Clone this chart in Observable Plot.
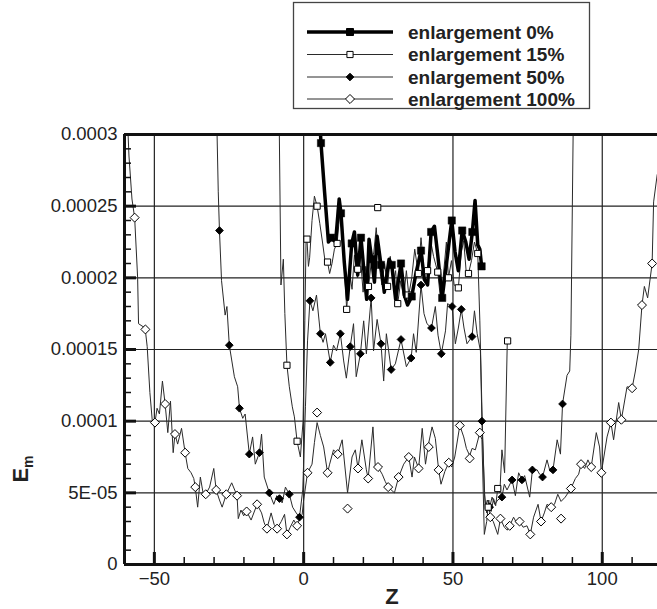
<!DOCTYPE html>
<html><head><meta charset="utf-8">
<script src="https://cdn.jsdelivr.net/npm/d3@7"></script>
<script src="https://cdn.jsdelivr.net/npm/@observablehq/plot@0.6"></script>
<style>
body{margin:0;background:#fff;font-family:"Liberation Sans",Arial,sans-serif;}
#legend{width:657px;height:120px;}
#chart{width:657px;height:489px;}
</style></head><body>
<div id="legend"></div>
<div id="chart"></div>
<script>
// values in units of 1e-5
const seriesNames = ["enlargement 0%", "enlargement 15%", "enlargement 50%", "enlargement 100%"];
const xTickValues = [-50, 0, 50, 100];
const xMinorTicks = [-40,-30,-20,-10,10,20,30,40,60,70,80,90,110];
const yTickValues = [0, 0.00005, 0.0001, 0.00015, 0.0002, 0.00025, 0.0003];
const yTickLabels = ["0", "5E-05", "0.0001", "0.00015", "0.0002", "0.00025", "0.0003"];
const yMinorTicks = [0.00001,0.00002,0.00003,0.00004,0.00006,0.00007,0.00008,0.00009,0.00011,0.00012,0.00013,0.00014,0.00016,0.00017,0.00018,0.00019,0.00021,0.00022,0.00023,0.00024,0.00026,0.00027,0.00028,0.00029];

const line0 = [[5.4,31],[5.8,29.4],[7.0,26.0],[8.3,22.5],[9.2,22.8],[10.7,22.5],[11.9,25.5],[12.5,24.5],[13.6,21.1],[14.7,18.5],[16.1,22.4],[17.0,23.2],[18.1,20.2],[19.2,22.8],[20.3,20.2],[21.1,18.5],[21.9,22.7],[22.8,21.3],[23.7,19.7],[24.6,22.9],[25.9,20.9],[27.0,19.0],[28.6,21.3],[29.5,20.9],[30.8,18.5],[32.6,21.0],[33.7,18.8],[34.8,18.1],[36.2,18.7],[37.5,20.2],[39.3,21.9],[40.4,19.9],[41.5,19.5],[42.7,23.2],[43.8,23.6],[44.9,21.6],[46.4,18.6],[47.9,21.1],[49.6,24.0],[50.7,21.8],[51.8,20.5],[53.1,23.3],[54.3,22.5],[55.4,21.3],[56.5,23.2],[57.4,25.4],[58.3,22.3],[59.0,22.0],[59.6,20.8]];
const marks0 = [[5.8,29.4],[9.2,22.8],[12.5,24.5],[16.1,22.4],[19.2,22.8],[22.8,21.3],[25.9,20.9],[29.5,20.9],[32.6,21.0],[36.2,18.7],[39.3,21.9],[42.7,23.2],[46.4,18.6],[49.6,24.0],[53.1,23.3],[56.5,23.2],[59.6,20.8]];

const line15 = [[-8.2,31],[-7.6,19.5],[-6.8,21.3],[-6.3,17.5],[-5.6,13.9],[-4.8,12.4],[-3.8,11.0],[-3.1,10.3],[-2.2,8.6],[-1.1,7.5],[-0.2,10],[0.4,17],[0.8,22.6],[1.1,22.7],[1.6,20.8],[2.0,21.4],[2.8,24.0],[3.6,25.7],[4.5,25.0],[5.4,23.8],[6.3,22.5],[7.2,21.1],[8.0,21.1],[8.7,20.3],[9.5,21.0],[10.3,22.0],[11.2,22.4],[12.1,24.5],[13.2,22.5],[14.4,17.8],[15.3,20.5],[16.2,19.2],[17.0,21.6],[18.0,20.0],[19.0,21.5],[19.9,19.0],[20.8,20.8],[21.7,19.4],[22.6,21.0],[23.5,21.8],[24.3,23.5],[25.2,21.0],[26.2,19.5],[27.1,21.0],[28.1,19.4],[29.0,21.5],[30.0,19.6],[30.8,20.5],[31.5,18.2],[32.5,19.8],[33.5,18.6],[34.4,20.5],[35.2,18.8],[36.2,20.0],[37.2,22.0],[38.4,20.3],[39.3,22.8],[40.3,20.5],[41.5,20.5],[42.5,22.6],[43.5,21.5],[44.9,20.4],[45.8,18.6],[46.8,20.2],[47.8,22.5],[48.5,20.0],[49.5,21.2],[50.4,19.5],[51.8,19.3],[52.8,21.8],[53.6,22.6],[54.4,20.5],[55.2,20.3],[56.2,21.2],[57.2,22.5],[58.3,21.7],[59.0,17],[59.8,10],[60.5,5.0],[61.3,3.6],[62.0,4.3],[62.8,3.7],[63.6,4.6],[64.3,4.1],[65.0,5.3],[65.7,5.0],[66.4,8.0],[67.3,6.4],[68.2,15.6]];
const marks15 = [[-5.6,13.9],[-2.2,8.6],[1.1,22.7],[4.5,25.0],[8.0,21.1],[11.2,22.4],[14.4,17.8],[18.1,20.6],[21.7,19.4],[24.8,24.9],[28.1,19.4],[31.5,18.2],[35.0,18.8],[38.4,20.3],[41.5,20.5],[44.9,20.4],[48.5,20.0],[51.8,19.3],[55.2,20.3],[58.3,21.7],[61.8,4.0],[65.0,5.3],[68.3,15.6]];

const line50 = [[-29.1,31],[-28.6,26],[-28.2,23.3],[-27.5,19.8],[-26.3,17.4],[-25.7,18.0],[-24.9,15.3],[-23.2,13.1],[-22.1,12.4],[-21.5,10.9],[-20.4,10.2],[-19.6,10.5],[-18.2,7.7],[-17.1,8.9],[-16.2,7.0],[-14.8,7.8],[-14.1,9.1],[-13.2,6.1],[-11.5,5.0],[-10.0,4.2],[-9.0,4.8],[-8.1,4.6],[-7.2,4.3],[-6.1,5.4],[-4.8,4.9],[-3.7,4.0],[-2.5,3.6],[-1.4,3.3],[-0.3,5.2],[0.6,11],[1.3,15.6],[2.1,18.4],[3.1,17.7],[4.3,18.8],[5.6,16.1],[6.5,15.5],[7.3,16.1],[8.9,14.1],[10.0,15.3],[11.0,14.9],[12.3,16.1],[13.4,14.2],[14.3,13.0],[15.6,15.2],[16.7,16.8],[17.6,13.1],[19.0,14.7],[20.1,17.0],[21.0,14.7],[22.6,18.6],[23.4,14.9],[24.6,17.1],[25.9,15.4],[26.8,12.8],[27.7,16.1],[29.3,13.6],[30.7,14.0],[32.6,15.7],[34.4,13.8],[36.0,14.4],[36.8,16.1],[37.7,14.8],[39.3,19.5],[40.3,17.5],[41.3,16.8],[42.8,16.5],[44.1,18.0],[45.0,16.0],[46.1,14.7],[47.5,16.3],[48.2,18.2],[49.7,18.0],[50.8,15.4],[51.8,16.5],[52.8,17.8],[53.7,16.5],[54.7,15.4],[56.4,15.9],[57.2,17.7],[58.1,16.1],[59.2,14.9],[59.7,10.0],[60.8,3.9],[61.5,4.5],[62.3,4.0],[63.1,4.7],[64.0,4.2],[65.0,4.5],[66.4,4.7],[67.2,5.6],[68.1,5.2],[69.8,5.9],[70.9,4.8],[72.0,6.4],[73.1,5.9],[74.0,6.2],[75.7,4.7],[76.6,6.6],[78.2,6.6],[79.0,6.3],[80.0,6.1],[81.5,7.3],[82.5,6.5],[83.5,6.6],[84.9,8.7],[86.0,7.7],[86.7,11.2],[88.2,13.2],[89.1,13.5],[89.5,16],[90.3,31]];
const marks50 = [[-28.2,23.3],[-24.9,15.3],[-21.5,10.9],[-18.2,7.7],[-14.8,7.8],[-11.5,5.0],[-8.1,4.6],[-4.8,4.9],[-1.4,3.3],[2.1,18.4],[5.6,16.1],[8.9,14.1],[12.3,16.1],[15.6,15.2],[19.0,14.7],[22.6,18.6],[25.9,15.4],[29.3,13.6],[32.6,15.7],[36.0,14.4],[39.3,19.5],[42.8,16.5],[46.1,14.7],[49.7,18.0],[52.8,17.8],[56.4,15.9],[59.7,10.0],[62.3,4.0],[66.4,4.7],[69.8,5.9],[73.1,5.9],[76.6,6.6],[80.0,6.1],[83.5,6.6],[86.7,11.2]];

const line100 = [[-59.2,32],[-58.5,28.5],[-57.5,25.5],[-56.6,24.2],[-55.6,20.0],[-55.3,16.8],[-53.1,16.5],[-52.4,15.2],[-51.5,12.0],[-50.6,9.8],[-49.8,9.9],[-49.1,10.9],[-48.3,10.5],[-47.3,12.8],[-46.4,11.2],[-45.5,9.2],[-44.6,11.4],[-43.7,7.8],[-43.1,9.1],[-42.2,8.4],[-40.9,9.5],[-39.7,7.8],[-38.8,6.7],[-37.7,6.4],[-36.8,6.0],[-36.3,5.4],[-35.5,4.0],[-34.6,6.1],[-33.7,5.0],[-32.8,4.9],[-31.5,5.4],[-30.1,6.7],[-29.3,5.2],[-28.2,4.5],[-27.3,4.0],[-25.9,4.9],[-24.8,5.4],[-24.1,5.7],[-22.3,4.8],[-21.9,3.2],[-21.0,3.8],[-20.1,3.4],[-19.1,3.7],[-17.6,3.1],[-15.6,4.2],[-14.1,3.6],[-13.2,2.9],[-12.3,2.5],[-10.9,3.6],[-9.9,2.8],[-8.9,2.5],[-7.5,3.0],[-6.4,3.5],[-5.6,2.1],[-4.5,2.6],[-3.3,3.1],[-2.2,2.7],[-1.1,3.3],[-0.5,3.5],[0,4.5],[1.3,6.4],[2.8,7.0],[3.6,8.5],[4.5,9.9],[5.6,9.0],[6.7,8.2],[8.0,6.4],[8.7,7.0],[10.0,8.0],[11.4,7.7],[12.9,8.7],[14.7,5.0],[16.2,7.5],[17.3,8.0],[18.2,6.7],[19.5,8.7],[21.0,6.6],[21.6,6.0],[23.2,9.6],[24.0,6.8],[24.9,6.8],[26.3,6.3],[27.3,5.8],[28.3,5.4],[30.4,5.0],[31.8,6.1],[33.5,7.0],[35.2,7.5],[36.3,6.1],[37.1,7.5],[38.5,6.7],[39.7,9.5],[40.8,7.0],[41.9,8.5],[43.0,9.6],[44.1,8.8],[45.2,6.6],[46.0,5.6],[47.3,6.5],[48.6,7.1],[49.6,6.8],[50.6,7.5],[52.3,9.7],[53.6,8.9],[54.5,8.1],[55.6,7.6],[56.4,8.1],[57.5,8.0],[59.0,9.2],[59.7,8.7],[60.5,2.1],[61.3,3.0],[62.0,4.5],[62.5,3.3],[63.5,3.0],[65.0,2.1],[65.9,3.2],[67.2,2.6],[68.2,2.4],[69.0,2.7],[70.3,3.3],[71.3,2.9],[72.3,3.0],[73.5,2.6],[74.8,2.7],[75.9,2.1],[77.0,3.3],[78.5,4.2],[79.5,3.0],[80.6,3.6],[81.5,4.2],[82.9,4.0],[84.0,4.2],[85.1,4.9],[86.2,4.4],[87.6,4.7],[89.5,5.3],[91.0,6.0],[92.1,6.3],[92.9,7.0],[94.1,6.7],[95.2,7.3],[96.3,6.8],[98.0,9.2],[99.1,8.2],[99.7,6.4],[101.6,8.9],[102.9,9.9],[103.8,8.7],[105.5,11.3],[106.4,10.1],[108.3,12.4],[110.0,12.3],[111.1,13.5],[112.2,15.0],[113.3,18.1],[114.1,19.4],[115.2,18.6],[116.7,21.0],[117.2,25.3],[118.4,27.2]];
const marks100 = [[-56.6,24.2],[-53.0,16.4],[-49.8,9.9],[-46.4,11.2],[-43.1,9.1],[-39.7,7.8],[-36.3,5.4],[-32.8,4.9],[-29.3,5.2],[-25.9,4.9],[-22.3,4.8],[-19.1,3.7],[-15.6,4.2],[-12.3,2.5],[-8.9,2.5],[-5.6,2.1],[-2.2,2.7],[1.3,6.4],[4.5,10.6],[8.0,6.4],[11.4,7.7],[14.7,3.9],[18.2,6.7],[21.6,6.0],[24.9,6.8],[28.3,5.4],[31.8,6.1],[35.2,7.5],[38.5,6.7],[41.9,8.2],[45.2,6.6],[48.6,7.1],[52.3,9.7],[55.6,7.4],[59.0,9.2],[62.5,3.3],[65.9,3.2],[69.0,2.7],[72.3,3.0],[75.9,2.1],[79.5,3.0],[82.9,4.0],[86.2,3.2],[89.5,5.3],[92.9,7.0],[96.3,6.8],[99.7,6.4],[102.9,9.9],[106.4,10.1],[110.0,12.3],[113.3,18.1],[116.7,21.0]];

const U = 1e-5;
const X = d => d[0], Y = d => d[1] * U;
const thin = "#2a2a2a";
const yLabelOf = new Map(yTickValues.map((v, i) => [v, yTickLabels[i]]));

// ---- legend ----
const styles = [
  {stroke: "#000", sw: 3.5, sym: d3.symbolSquare, size: 49, fill: "#000"},
  {stroke: thin, sw: 1, sym: d3.symbolSquare, size: 38, fill: "#fff"},
  {stroke: thin, sw: 1, sym: d3.symbolDiamond2, size: 37, fill: "#000"},
  {stroke: thin, sw: 1, sym: d3.symbolDiamond2, size: 52, fill: "#fff"}
];
const lg = d3.select("#legend").append("svg").attr("width", 657).attr("height", 120);
lg.append("rect").attr("x", 293.5).attr("y", 2.5).attr("width", 296).attr("height", 106)
  .attr("fill", "#fff").attr("stroke", "#444").attr("stroke-width", 1.3);
const rowY = [32, 54.5, 77, 99];
seriesNames.forEach((name, i) => {
  const s = styles[i], y = rowY[i];
  lg.append("line").attr("x1", 307).attr("x2", 393).attr("y1", y).attr("y2", y)
    .attr("stroke", s.stroke).attr("stroke-width", s.sw);
  lg.append("path").attr("d", d3.symbol(s.sym, s.size)()).attr("transform", `translate(350,${y})`)
    .attr("fill", s.fill).attr("stroke", "#000").attr("stroke-width", 1);
  lg.append("text").attr("x", 408).attr("y", y).attr("dy", "0.36em")
    .attr("font-family", "Liberation Sans, Arial, sans-serif").attr("font-weight", "bold")
    .attr("font-size", 19).attr("fill", "#222").text(name);
});

// ---- chart ----
const W = 657, H = 489, mt = 14, mb = 45, ml = 124, mr = 0;
const plotW = W - ml - mr, plotH = H - mt - mb;
const chart = Plot.plot({
  width: W, height: H,
  marginTop: mt, marginBottom: mb, marginLeft: ml, marginRight: mr,
  x: {domain: [-60, 118.5]},
  y: {domain: [0, 0.0003]},
  style: {fontFamily: "Liberation Sans, Arial, sans-serif", fontSize: "18.5px", color: "#222", background: "#fff", overflow: "visible"},
  marks: [
    Plot.gridX(xTickValues, {stroke: "#222", strokeOpacity: 1, strokeWidth: 1.2}),
    Plot.gridY(yTickValues, {stroke: "#222", strokeOpacity: 1, strokeWidth: 1.2}),
    Plot.line(line100, {x: X, y: Y, stroke: thin, strokeWidth: 1, clip: true}),
    Plot.line(line50, {x: X, y: Y, stroke: thin, strokeWidth: 1, clip: true}),
    Plot.line(line15, {x: X, y: Y, stroke: thin, strokeWidth: 1, clip: true}),
    Plot.line(line0, {x: X, y: Y, stroke: "#000", strokeWidth: 3.5, strokeLinejoin: "round", clip: true}),
    Plot.dot(marks100, {x: X, y: Y, symbol: "diamond2", r: 4.05, fill: "#fff", stroke: "#000", strokeWidth: 1}),
    Plot.dot(marks50, {x: X, y: Y, symbol: "diamond2", r: 3.45, fill: "#000", stroke: "#000", strokeWidth: 1}),
    Plot.dot(marks15, {x: X, y: Y, symbol: "square", r: 3.5, fill: "#fff", stroke: "#000", strokeWidth: 1}),
    Plot.dot(marks0, {x: X, y: Y, symbol: "square", r: 4.1, fill: "#000", stroke: "#000", strokeWidth: 0.5}),
    // inward ticks
    Plot.tickY(yTickValues, {y: d => d, insetRight: plotW - 12, stroke: "#111", strokeWidth: 3}),
    Plot.tickY(yMinorTicks, {y: d => d, insetRight: plotW - 7, stroke: "#111", strokeWidth: 1.5}),
    Plot.tickX(xTickValues, {x: d => d, insetTop: plotH - 12, stroke: "#111", strokeWidth: 3}),
    Plot.tickX(xMinorTicks, {x: d => d, insetTop: plotH - 7, stroke: "#111", strokeWidth: 1.5}),
    // frame
    Plot.ruleX([-60], {stroke: "#111", strokeWidth: 3}),
    Plot.ruleY([0], {stroke: "#111", strokeWidth: 3}),
    Plot.ruleY([0.0003], {stroke: "#111", strokeWidth: 3}),
    Plot.axisY(yTickValues, {tickSize: 0, tickPadding: 7, tickFormat: d => yLabelOf.get(d), label: null}),
    Plot.axisX(xTickValues, {tickSize: 0, tickPadding: 7, label: null})
  ]
});
document.getElementById("chart").appendChild(chart);

const svg = d3.select(chart);
const yl = svg.append("text").attr("transform", "translate(28,349) rotate(-90)")
  .attr("text-anchor", "middle").attr("font-family", "Liberation Sans, Arial, sans-serif")
  .attr("font-weight", "bold").attr("font-size", 22).attr("fill", "#222");
yl.append("tspan").text("E");
yl.append("tspan").attr("font-size", 14).attr("dy", 5).text("m");
svg.append("text").attr("x", 392).attr("y", 484).attr("text-anchor", "middle")
  .attr("font-family", "Liberation Sans, Arial, sans-serif").attr("font-weight", "bold")
  .attr("font-size", 22).attr("fill", "#222").text("Z");
</script>
</body></html>
